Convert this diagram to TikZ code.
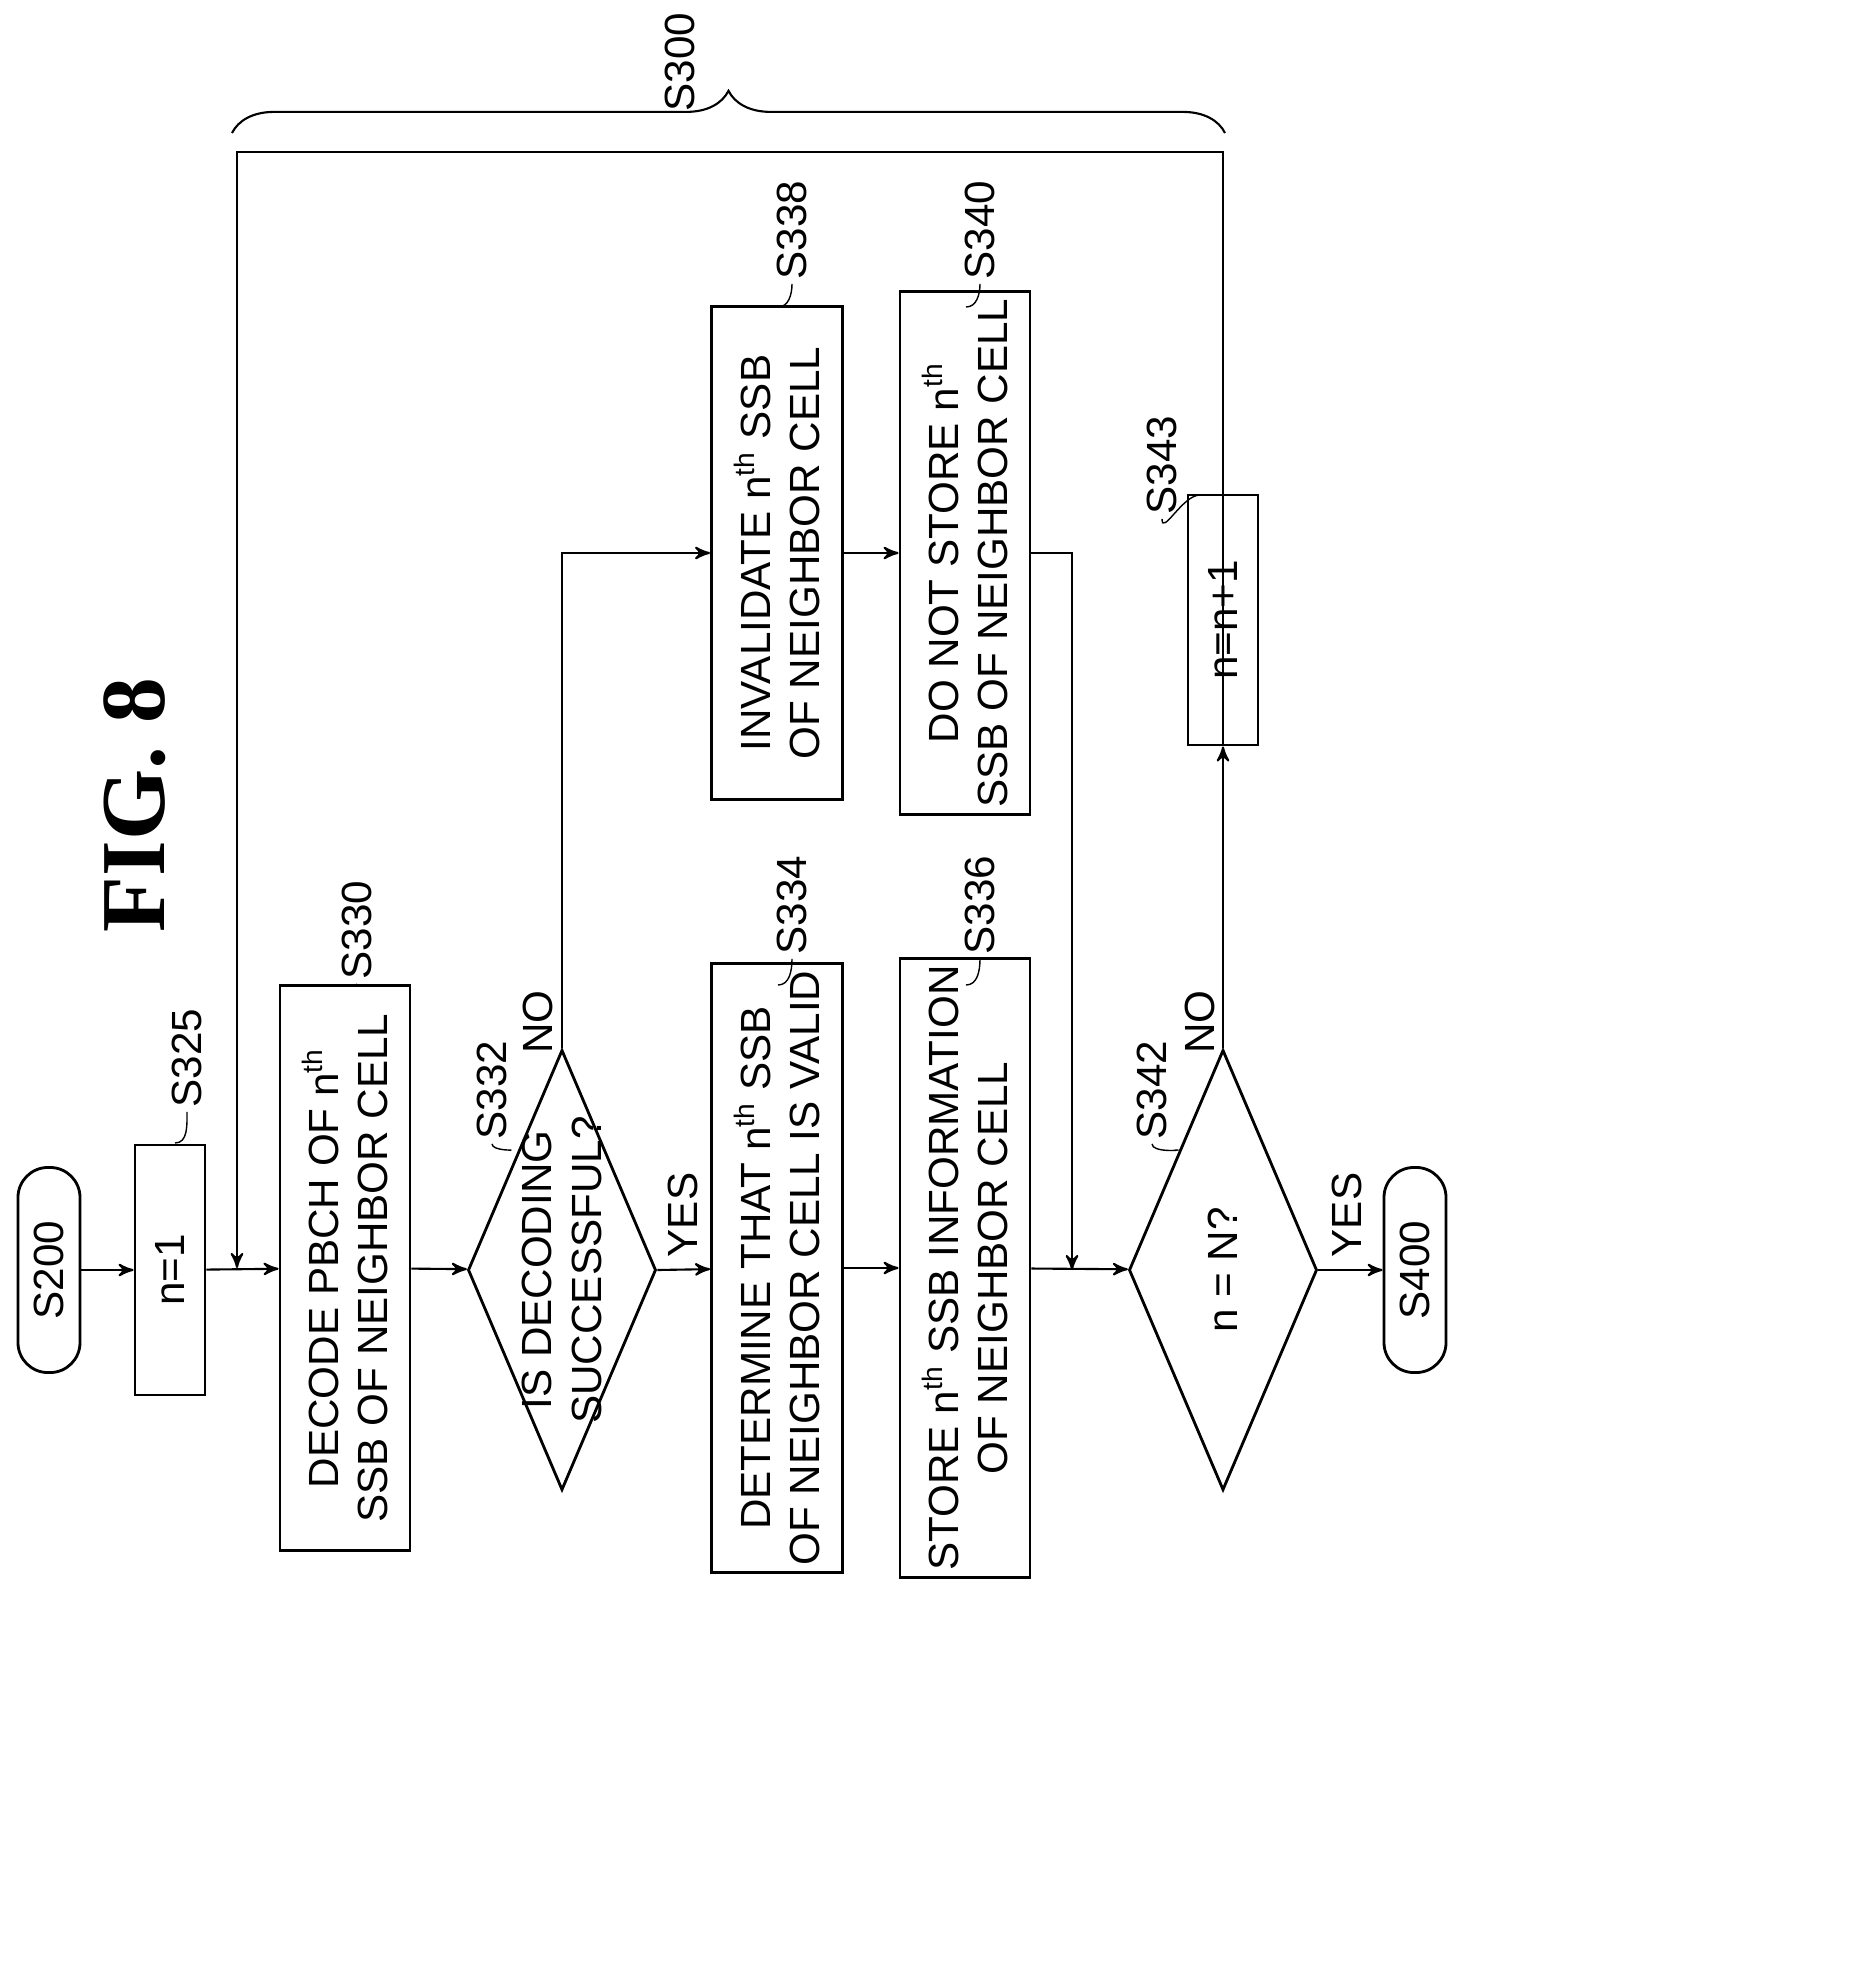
\documentclass[tikz,border=0pt]{standalone}
\usepackage{fontspec}
\setmainfont{Liberation Sans}
\newfontfamily\figfont{Liberation Serif}
\usetikzlibrary{arrows,shapes,shapes.geometric,positioning,calc,decorations.pathreplacing}
\newcommand{\nth}{n\textsuperscript{th}}

\begin{document}
\begin{tikzpicture}[->,>=stealth',x=0.01cm,y=-0.01cm,semithick,
    every node/.style={font=\fontsize{12}{14}\selectfont,align=center}]

    \tikzstyle{proc}=[draw,thick,rectangle,rotate=90,inner sep=2pt]
    \tikzstyle{term}=[draw,thick,rounded corners=0.3cm,rotate=90,minimum height=0.62cm,minimum width=2.05cm]
    \tikzstyle{check}=[draw,thick,diamond,rotate=90,minimum width=4.4cm,minimum height=1.88cm,inner sep=0pt]
    \tikzstyle{tag}=[rotate=90,inner sep=1pt]
    \tikzstyle{lead}=[-,thin]

    \useasboundingbox (0,0) rectangle (1875,1985);

    \node[rotate=90,font=\figfont\fontsize{26}{30}\selectfont\bfseries] (fig) at (135,805) {FIG. 8};

    % main column
    \node[term]  (S200) at (49,1270)   {S200};
    \node[proc,minimum width=2.5cm,minimum height=0.7cm]   (S325) at (170,1270) {n=1};
    \node[proc,minimum width=5.65cm,minimum height=1.3cm]  (S330) at (345,1268) {DECODE PBCH OF \nth\\SSB OF NEIGHBOR CELL};
    \node[check] (S332) at (562,1270)  {};
    \node[tag]   (q332) at (S332)      {IS DECODING\\SUCCESSFUL?};
    \node[proc,minimum width=5.65cm,minimum height=1.31cm] (S334) at (777,1268) {DETERMINE THAT \nth{} SSB\\OF NEIGHBOR CELL IS VALID};
    \node[proc,minimum width=5.65cm,minimum height=1.3cm]  (S336) at (965,1268) {STORE \nth{} SSB INFORMATION\\OF NEIGHBOR CELL};
    \node[check] (S342) at (1223,1270) {};
    \node[tag]   (q342) at (S342)      {n = N?};
    \node[term]  (S400) at (1415,1270) {S400};

    % upper branch
    \node[proc,minimum width=4.93cm,minimum height=1.31cm] (S338) at (777,553) {INVALIDATE \nth{} SSB\\OF NEIGHBOR CELL};
    \node[proc,minimum width=4.93cm,minimum height=1.3cm]  (S340) at (965,553) {DO NOT STORE \nth\\SSB OF NEIGHBOR CELL};
    \node[proc,minimum width=2.5cm,minimum height=0.7cm]   (S343) at (1223,620) {n=n+1};

    % step labels
    \node[tag] (t325) at (187,1058) {S325};
    \node[tag] (t330) at (357,930)  {S330};
    \node[tag] (t332) at (492,1090) {S332};
    \node[tag] (t334) at (792,905)  {S334};
    \node[tag] (t336) at (980,905)  {S336};
    \node[tag] (t338) at (792,230)  {S338};
    \node[tag] (t340) at (980,230)  {S340};
    \node[tag] (t342) at (1152,1090) {S342};
    \node[tag] (t343) at (1162,465) {S343};
    \draw[lead] (t325.west) to[out=-90,in=0] (175,1143);
    \draw[lead] (t330.west) to[out=-90,in=0] (345,985);
    \draw[lead] (t332.west) to[out=-90,in=0] (510,1150);
    \draw[lead] (t334.west) to[out=-90,in=0] (778,985);
    \draw[lead] (t336.west) to[out=-90,in=0] (966,985);
    \draw[lead] (t338.west) to[out=-90,in=0] (778,307);
    \draw[lead] (t340.west) to[out=-90,in=0] (966,307);
    \draw[lead] (t342.west) to[out=-90,in=0] (1175,1150);
    \draw[lead] (t343.west) to[out=-90,in=180] (1200,495);

    % branch labels
    \node[tag] (yes1) at (683,1215) {YES};
    \node[tag] (yes2) at (1347,1215) {YES};
    \node[tag] (no1)  at (538,1022) {NO};
    \node[tag] (no2)  at (1200,1022) {NO};

    % connectors
    \draw (S200) -- (S325);
    \draw (S325) -- (S330);
    \draw (S330) -- (S332);
    \draw (S332.south) -- (S334);
    \draw (S334) -- (S336);
    \draw (S336) -- (S342);
    \draw (S342.south) -- (S400);
    \draw (S342.east) -- (S343);
    \draw (S332.east) |- (S338);
    \draw (S338) -- (S340);
    \coordinate (join) at (1072,1270);
    \draw (S340.south) -| (join);
    \coordinate (loopA) at (1223,152);
    \coordinate (loopB) at (237,152);
    \draw (S343.west) -- (loopA) -- (loopB) -- (loopB |- S330);

    % range brace
    \draw[-,decorate,decoration={brace,amplitude=12pt}] (232,133) -- (1225,133);
    \node[tag] (S300) at (680,62) {S300};
\end{tikzpicture}
\end{document}
